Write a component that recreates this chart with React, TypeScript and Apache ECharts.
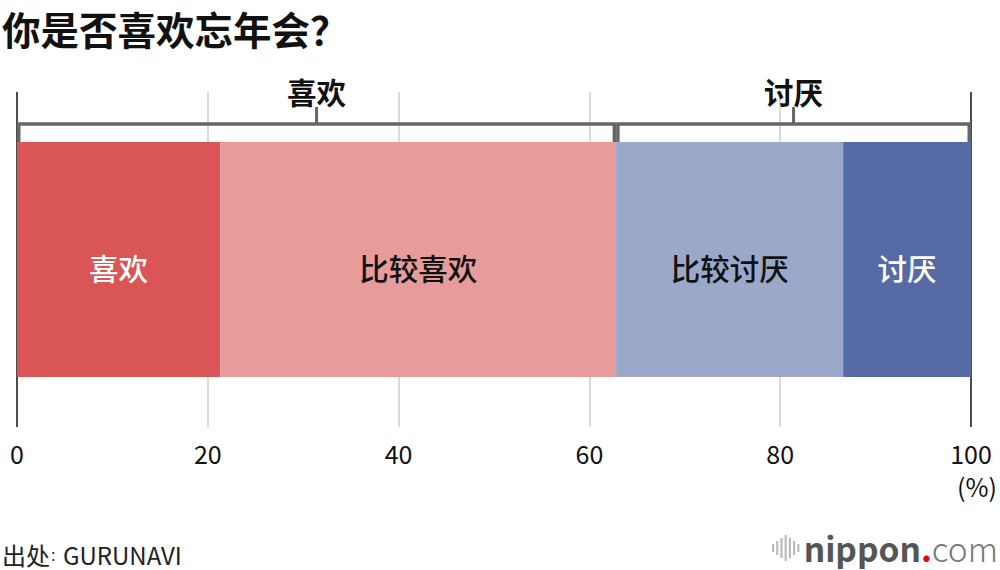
import React, { useEffect, useRef } from "react";
import * as echarts from "echarts";

const title = "你是否喜欢忘年会？";
const category = ["全体"];
const seriesNames = ["喜欢", "比较喜欢", "比较讨厌", "讨厌"];
const seriesValues = [21.3, 41.5, 23.8, 13.4];
const seriesColors = ["#d95556", "#e89b9b", "#9ba8c9", "#566aa5"];
const labelColors = ["#ffffff", "#111111", "#111111", "#ffffff"];
const bracketNames = ["喜欢", "讨厌"];
const xTicks = [0, 20, 40, 60, 80, 100];
const unitLabel = "(%)";
const sourceLabel = "出处";
const sourceName = "GURUNAVI";

const FONT = "'Noto Sans CJK SC', 'Noto Sans', sans-serif";

export default function App() {
  const ref = useRef<HTMLDivElement>(null);
  useEffect(() => {
    if (!ref.current) return;
    const chart = echarts.init(ref.current, null, { renderer: "svg" });
    const likeSum = seriesValues[0] + seriesValues[1];
    const total = seriesValues.reduce((a, b) => a + b, 0);
    const bracketData = [
      [0, likeSum, 0],
      [likeSum, total, 0],
    ];

    const barSeries = seriesNames.map((name, i) => ({
      type: "bar",
      name,
      stack: "all",
      data: [seriesValues[i]],
      barWidth: 235,
      itemStyle: { color: seriesColors[i] },
      label: {
        show: true,
        position: "inside",
        offset: [0, 7],
        formatter: name,
        color: labelColors[i],
        fontSize: 29.5,
        fontFamily: FONT,
        fontWeight: 500,
      },
      silent: true,
      z: 2,
    }));

    const stripeHeights = [8, 14, 20, 26, 20, 14, 8];

    chart.setOption({
      animation: false,
      grid: { left: 17, right: 29, top: 92, bottom: 143 },
      xAxis: {
        type: "value",
        min: xTicks[0],
        max: xTicks[xTicks.length - 1],
        interval: 20,
        axisLine: { show: false },
        axisTick: { show: false },
        axisLabel: {
          fontSize: 25,
          color: "#111",
          margin: 13,
          fontFamily: FONT,
        },
        splitLine: {
          show: true,
          lineStyle: {
            color: ["#111", "#cfcfcf", "#cfcfcf", "#cfcfcf", "#cfcfcf", "#111"],
            width: 1.5,
          },
        },
      },
      yAxis: {
        type: "category",
        data: category,
        axisLine: { show: false },
        axisTick: { show: false },
        axisLabel: { show: false },
        splitLine: { show: false },
      },
      series: [
        ...barSeries,
        {
          type: "custom",
          name: "bracket",
          data: bracketData,
          encode: { x: [0, 1], y: 2 },
          z: 5,
          silent: true,
          renderItem: (params: any, api: any) => {
            const idx = params.dataIndex;
            const xs = api.coord([api.value(0), 0])[0];
            const xe = api.coord([api.value(1), 0])[0];
            const top = params.coordSys.y;
            const lineY = top + 32;
            const tickBottom = top + 50;
            const mid = (xs + xe) / 2;
            return {
              type: "group",
              children: [
                {
                  type: "polyline",
                  shape: {
                    points: [
                      [xs + 1.75, tickBottom],
                      [xs + 1.75, lineY],
                      [xe - 1.75, lineY],
                      [xe - 1.75, tickBottom],
                    ],
                  },
                  style: { stroke: "#666", lineWidth: 3.5, fill: null },
                },
                {
                  type: "line",
                  shape: { x1: mid, y1: lineY - 17, x2: mid, y2: lineY },
                  style: { stroke: "#666", lineWidth: 3 },
                },
                {
                  type: "text",
                  style: {
                    text: bracketNames[idx],
                    x: mid,
                    y: lineY - 33,
                    align: "center",
                    verticalAlign: "middle",
                    fontSize: 29.5,
                    fontWeight: "bold",
                    fontFamily: FONT,
                    fill: "#111",
                  },
                },
              ],
            };
          },
        },
      ],
      graphic: [
        {
          type: "text",
          x: 2,
          y: 8,
          style: {
            text: title,
            fontSize: 38.5,
            lineHeight: 40,
            fontWeight: "bold",
            fontFamily: FONT,
            fill: "#111",
            verticalAlign: "top",
          },
        },
        {
          type: "text",
          x: 997,
          y: 486,
          style: {
            text: unitLabel,
            fontSize: 25,
            fontFamily: FONT,
            fill: "#111",
            align: "right",
            verticalAlign: "middle",
          },
        },
        {
          type: "text",
          x: 2,
          y: 554,
          style: {
            text: `{a|${sourceLabel}}{b|：}{a|${sourceName}}`,
            verticalAlign: "middle",
            rich: {
              a: { fontSize: 24, fontFamily: FONT, fill: "#222" },
              b: { fontSize: 13, fontFamily: FONT, fill: "#222" },
            },
          },
        },
        {
          type: "group",
          x: 772,
          y: 535,
          children: stripeHeights.map((h, i) => ({
            type: "rect",
            shape: { x: i * 4.2, y: (26 - h) / 2, width: 2.2, height: h },
            style: { fill: "#bbb" },
          })),
        },
        {
          type: "text",
          x: 998,
          y: 547,
          style: {
            text: "{a|nippon}{b|.}{c|com}",
            align: "right",
            verticalAlign: "middle",
            rich: {
              a: { fontSize: 33.5, fontWeight: "bold", fill: "#555", fontFamily: FONT },
              b: { fontSize: 33.5, fontWeight: "bold", fill: "#e60012", fontFamily: FONT },
              c: { fontSize: 33.5, fontWeight: 300, fill: "#777", fontFamily: FONT },
            },
          },
        },
      ],
    });
    return () => chart.dispose();
  }, []);
  return (
    <div
      ref={ref}
      style={{ position: "absolute", left: 0, top: 0, width: 1000, height: 570 }}
    />
  );
}
